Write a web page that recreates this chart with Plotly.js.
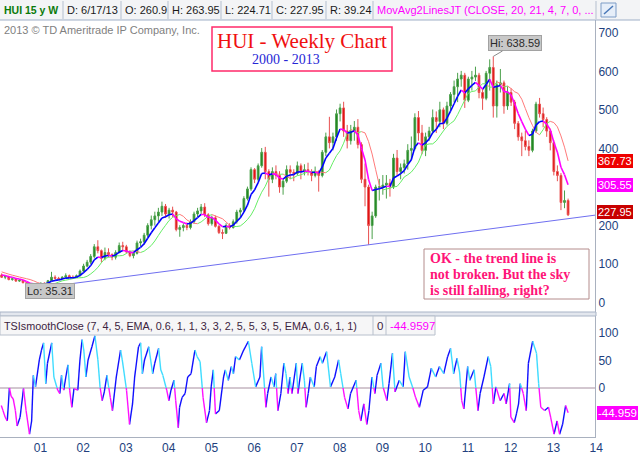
<!DOCTYPE html>
<html><head><meta charset="utf-8">
<script src="https://cdn.plot.ly/plotly-3.0.1.min.js"></script>
<style>html,body{margin:0;padding:0;background:#fff;}#chart{width:640px;height:456px;}</style>
</head><body><div id="chart"></div>
<script>
// ---------- DATA (monthly bars, Mar 2000 .. Jun 2013) ----------
const firstMonth = {year: 2000, month: 3};
const open = [72,66,68,60,62,56,58,52,46,40,
 45,47,50,48,57,66,63,62,66,70,66,65,
 70,82,95,105,120,145,135,115,130,125,118,130,
 148,145,132,122,128,155,158,175,200,215,225,235,
 250,230,240,235,190,195,200,195,210,230,238,248,
 228,205,220,198,182,180,200,195,210,235,240,270,
 295,345,320,355,390,340,320,340,330,300,315,345,
 338,335,355,340,345,340,330,340,330,390,430,415,
 430,490,505,445,420,445,455,410,320,300,200,225,
 300,300,305,310,300,375,340,350,360,395,400,480,
 440,395,430,445,480,470,500,465,510,540,560,580,
 590,525,580,585,590,545,530,595,610,510,565,570,
 510,545,520,465,430,420,405,395,445,515,490,475,
 445,415,340,330,260,265];
const high = [76,71,70,65,63,61,59,54,48,47,
 50,53,53,59,80,71,67,69,76,73,71,73,
 86,101,111,126,152,162,138,143,141,128,136,156,
 158,150,136,132,161,166,181,206,226,236,246,262,
 256,246,249,238,201,206,208,216,236,246,256,258,
 232,226,226,201,190,206,206,216,241,246,276,301,
 351,349,361,401,404,346,351,356,341,321,356,356,
 346,366,361,359,363,346,353,343,396,441,482,441,
 501,516,521,461,461,471,476,416,361,306,236,306,
 321,331,331,321,386,396,361,371,411,431,491,497,
 461,441,456,501,496,521,506,521,546,576,596,601,
 596,586,601,612,596,556,601,631,638.59,576,606,576,
 561,556,526,471,441,446,421,451,521,531,506,481,
 451,421,356,336,291,270];
const low = [64,61,58,57,54,54,50,44,35.31,38,
 43,45,46,47,56,60,58,60,62,64,62,64,
 68,78,92,100,115,128,104,110,118,110,112,128,
 135,128,118,115,125,146,150,170,190,200,210,225,
 220,218,222,185,171,185,188,190,205,222,230,222,
 200,200,195,178,165,178,190,192,205,222,235,265,
 290,310,315,350,320,275,310,320,285,280,310,320,
 315,330,320,330,330,315,325,288,325,380,400,395,
 420,470,430,400,410,420,400,310,250,150.27,165,220,
 265,280,270,275,295,330,320,335,345,370,395,420,
 385,380,420,440,440,455,450,460,500,520,520,560,
 505,520,550,575,530,500,525,550,480,480,545,490,
 500,510,450,420,380,395,380,390,440,480,455,430,
 395,330,315,240,245,224.71];
const close = [66,68,60,62,56,58,52,46,40,45,
 47,50,48,57,66,63,62,66,70,66,65,70,
 82,95,105,120,145,135,115,130,125,118,130,148,
 145,132,122,128,155,158,175,200,215,225,235,250,
 230,240,235,190,195,200,195,210,230,238,248,228,
 205,220,198,182,180,200,195,210,235,240,270,295,
 345,320,355,390,340,320,340,330,300,315,345,338,
 335,355,340,345,340,330,340,330,390,430,415,430,
 490,505,445,420,445,455,410,320,300,200,225,300,
 300,305,310,300,375,340,350,360,395,400,480,440,
 395,430,445,480,470,500,465,510,540,560,580,590,
 525,580,585,590,545,530,595,610,510,565,570,510,
 545,520,465,430,420,405,395,445,515,490,475,445,
 415,340,330,260,265,227.95];
const maFast = [72,70.5,67.4,65.8,62.9,61.4,58.6,54.8,50.4,48.8,
 48.3,48.8,48.6,51.1,55.6,57.8,59.1,61.2,63.8,64.5,64.6,66.2,
 70.9,78.2,86.2,96.3,110.9,118.1,117.2,121,122.2,121,123.7,131,
 135.2,134.2,130.6,129.8,137.4,143.5,153,167.1,181.5,194.5,206.7,219.7,
 222.8,227.9,230.1,218,211.1,207.8,204,205.8,213,220.5,228.8,228.5,
 221.5,221,214.1,204.5,197.1,198,197.1,201,211.2,219.8,234.9,252.9,
 280.5,292.4,311.2,334.8,336.4,331.5,334,332.8,323,320.6,327.9,330.9,
 332.1,339,339.3,341,340.7,337.5,338.3,335.8,352,375.4,387.3,400.1,
 427.1,450.4,448.8,440.2,441.6,445.6,434.9,400.4,370.3,319.2,291,293.7,
 295.6,298.4,301.9,301.3,323.4,328.4,334.9,342.4,358.2,370.7,403.5,414.5,
 408.6,415,424,440.8,449.6,464.7,464.8,478.4,496.9,515.8,535.1,551.5,
 543.6,554.5,563.6,571.5,563.6,553.5,565.9,579.2,558.4,560.4,563.3,547.3,
 546.6,538.6,516.5,490.6,469.4,450.1,433.6,437,460.4,469.3,471,463.2,
 448.7,416.1,390.3,351.2,332,305.55];
const maSlow = [80,77,74,71.3,69,66.6,64.4,62.2,60,56.7,
 52.6,49.6,48.6,48.6,48.7,49.9,53.4,56.7,58.5,60.2,62.5,64.2,
 64.6,65.4,68.6,74.6,82.2,91.3,103.6,114.5,117.7,119.1,121.6,121.6,
 122.4,127.4,133.1,134.7,132.4,130.2,133.6,140.5,148.3,160.1,174.3,188,
 200.6,213.2,221.3,225.4,229,224.1,214.6,209.5,205.9,204.9,209.4,216.8,
 224.7,228.7,225,221.3,217.6,209.3,200.8,197.6,197.6,199.1,206.1,215.5,
 227.4,243.9,266.7,286.5,301.8,323,335.6,334,332.8,333.4,327.9,321.8,
 324.3,329.4,331.5,335.6,339.2,340.2,340.9,339.1,337.9,337.1,343.9,363.7,
 381.4,393.7,413.6,438.8,449.6,444.5,440.9,443.6,440.3,417.7,385.4,344.8,
 305.1,292.4,294.7,297,300.2,301.6,312.4,325.9,331.7,338.7,350.3,364.5,
 387.1,409,411.6,411.8,419.5,432.4,445.2,457.2,464.8,471.6,487.7,506.4,
 525.5,543.3,547.6,549.1,559.1,567.6,567.6,558.6,559.7,572.6,568.8,559.4,
 561.9,555.3,547,542.6,527.6,503.6,480,459.8,441.9,435.3,448.7,464.9,
 470.2,467.1,456,432.4,403.2,367.73];
// TSI oscillator turning points (decimal year, value)
const tsiTime = [2000.20,2000.24,2000.29,2000.34,2000.39,2000.43,2000.48,2000.53,2000.57,2000.64,2000.72,2000.78,2000.86,2000.91,2000.95,
 2001.00,2001.09,2001.14,2001.19,2001.24,2001.28,2001.38,2001.43,2001.52,2001.57,2001.61,2001.66,2001.71,2001.76,2001.80,2001.85,2001.90,2001.99,
 2002.04,2002.09,2002.13,2002.18,2002.23,2002.32,2002.39,2002.46,2002.51,2002.56,2002.61,2002.67,2002.75,2002.80,2002.89,2002.99,
 2003.03,2003.13,2003.20,2003.27,2003.32,2003.41,2003.46,2003.50,2003.55,2003.65,2003.74,2003.79,2003.88,2003.93,2003.98,
 2004.07,2004.12,2004.17,2004.24,2004.28,2004.34,2004.37,2004.43,2004.50,2004.56,2004.64,2004.73,2004.78,2004.85,2004.92,
 2005.00,2005.07,2005.11,2005.16,2005.21,2005.30,2005.40,2005.44,2005.51,2005.58,2005.63,2005.68,2005.77,2005.87,2005.98,
 2006.06,2006.15,2006.25,2006.29,2006.34,2006.39,2006.43,2006.51,2006.58,2006.62,2006.67,2006.74,2006.81,2006.86,2006.91,2006.95,
 2007.00,2007.10,2007.14,2007.19,2007.24,2007.29,2007.33,2007.38,2007.43,2007.52,2007.57,2007.66,2007.71,2007.81,2007.90,
 2008.00,2008.09,2008.14,2008.23,2008.31,2008.37,2008.50,2008.56,2008.61,2008.68,2008.75,2008.80,2008.87,2008.94,2008.99,
 2009.08,2009.13,2009.22,2009.27,2009.35,2009.41,2009.51,2009.60,2009.65,2009.74,2009.82,2009.89,2009.98,
 2010.07,2010.17,2010.26,2010.36,2010.45,2010.55,2010.64,2010.71,2010.78,2010.86,2010.92,2010.97,
 2011.02,2011.11,2011.16,2011.26,2011.35,2011.40,2011.49,2011.59,2011.65,2011.71,2011.77,2011.87,2011.96,
 2012.01,2012.09,2012.12,2012.20,2012.25,2012.30,2012.34,2012.41,2012.48,2012.53,2012.63,2012.72,2012.77,2012.82,2012.91,
 2013.00,2013.05,2013.13,2013.20,2013.26,2013.33,2013.40,2013.46];
const tsiValue = [-32,-41,-53,-60,0,-15,-20,-41,-69,-53,-1,-41,-84,-60,23,
 2,51,69,82,8,45,82,20,-4,-10,23,-4,20,42,-4,-35,-1,-4,
 51,88,69,20,51,75,95,51,2,-23,-7,23,-17,-41,20,69,
 51,-4,-66,-29,20,75,82,26,51,75,26,45,72,33,23,
 -4,-23,-4,14,-23,-72,-35,-17,-10,20,26,69,57,48,-17,
 -63,-41,2,33,-47,-41,20,33,14,39,26,57,51,69,85,
 45,2,20,75,20,-35,-10,20,2,26,-41,-10,45,26,-10,20,
 -10,45,-10,20,45,14,-35,-10,20,2,39,57,45,66,2,
 20,51,26,-17,-38,-10,14,-41,-60,-29,-66,-41,20,-10,23,
 45,2,-23,8,63,-7,14,2,66,20,2,-17,-35,
 -4,2,36,20,39,26,57,72,26,54,29,-23,
 -38,39,14,33,-41,-10,20,57,39,-29,2,-23,-10,
 -29,8,-53,-63,-47,-29,8,-10,-41,45,85,63,8,-35,-41,
 -35,-53,-84,-60,-84,-66,-32,-44.959];
const trendTime = [2000.875, 2014.09];
const trendValue = [35.31, 227];
const yearTicks = [2001,2002,2003,2004,2005,2006,2007,2008,2009,2010,2011,2012,2013,2014];
const yearLabels = ['01','02','03','04','05','06','07','08','09','10','11','12','13','14'];
const priceTicks = [0,100,200,400,500,600,700]; // 300 is hidden behind the MA value tag
const tsiTicks = [0,50,100];
const headerText = ['HUI 15 y W','D: 6/17/13','O: 260.9','H: 263.95','L: 224.71','C: 227.95','R: 39.24','MovAvg2LinesJT (CLOSE, 20, 21, 4, 7, 0, ...'];
const tsiHeaderText = ['TSIsmoothClose (7, 4, 5, EMA, 0.6, 1, 1, 3, 3, 2, 5, 5, 3, 5, EMA, 0.6, 1, 1)','0','-44.9597'];
const titleText = 'HUI - Weekly Chart';
const subtitleText = '2000 - 2013';
const noteLines = ['OK - the trend line is','not broken. But the sky','is still falling, right?'];
const copyrightText = '2013 \u00a9 TD Ameritrade IP Company, Inc.';

// ---------- BUILD ----------
const months = close.map((_, i) => firstMonth.year + (firstMonth.month - 1 + i + 0.5) / 12);
const P = x => x / 640, Q = y => 1 - y / 456;
const SANS = 'Liberation Sans, Arial, sans-serif', SERIF = 'Liberation Serif, Times New Roman, serif';

function slopeSplit(xs, ys, upColor, downColor, width, yaxis) {
  const up = {x: [], y: []}, dn = {x: [], y: []};
  for (let i = 0; i < xs.length - 1; i++) {
    const b = ys[i + 1] >= ys[i] ? up : dn;
    b.x.push(xs[i], xs[i + 1], null); b.y.push(ys[i], ys[i + 1], null);
  }
  return [up, dn].map((b, k) => ({type: 'scatter', mode: 'lines', x: b.x, y: b.y, yaxis: yaxis,
    line: {color: k ? downColor : upColor, width: width}, hoverinfo: 'skip', connectgaps: false}));
}

function tsiTraces() {
  const B = {blue: {x: [], y: []}, cyan: {x: [], y: []}, magenta: {x: [], y: []}};
  for (let i = 0; i < tsiTime.length - 1; i++) {
    const x0 = tsiTime[i], x1 = tsiTime[i + 1], y0 = tsiValue[i], y1 = tsiValue[i + 1];
    if (y1 >= y0) { B.blue.x.push(x0, x1, null); B.blue.y.push(y0, y1, null); continue; }
    if (y0 > 0 && y1 < 0) {
      const xc = x0 + (x1 - x0) * y0 / (y0 - y1);
      B.cyan.x.push(x0, xc, null); B.cyan.y.push(y0, 0, null);
      B.magenta.x.push(xc, x1, null); B.magenta.y.push(0, y1, null);
    } else if (y1 >= 0) { B.cyan.x.push(x0, x1, null); B.cyan.y.push(y0, y1, null); }
    else { B.magenta.x.push(x0, x1, null); B.magenta.y.push(y0, y1, null); }
  }
  const col = {blue: '#1010ff', cyan: '#3fdcff', magenta: '#ff10ff'};
  return Object.keys(B).map(k => ({type: 'scatter', mode: 'lines', x: B[k].x, y: B[k].y, yaxis: 'y2',
    line: {color: col[k], width: 1.4}, hoverinfo: 'skip'}));
}

const traces = [];
traces.push({type: 'scatter', mode: 'lines', x: trendTime, y: trendValue, yaxis: 'y',
  line: {color: '#6f6ff0', width: 1}, hoverinfo: 'skip'});
traces.push({type: 'candlestick', x: months, open: open, high: high, low: low, close: close, yaxis: 'y',
  increasing: {line: {color: '#4aa04a', width: 1}, fillcolor: '#1a801a'},
  decreasing: {line: {color: '#e85050', width: 1}, fillcolor: '#dd0000'},
  whiskerwidth: 0, hoverinfo: 'skip'});
traces.push(...slopeSplit(months, maSlow, '#66ee66', '#ff7a7a', 1, 'y'));
traces.push(...slopeSplit(months, maFast, '#0000ff', '#ff00ff', 1.6, 'y'));
traces.push(...tsiTraces());

const last = close.length - 1;
const iHi = high.indexOf(Math.max(...high));
const iLo = low.indexOf(Math.min(...low));

const shapes = [], anns = [];
// top header bar
shapes.push({type: 'rect', xref: 'paper', yref: 'paper', x0: 0, x1: 1, y0: Q(20), y1: 1, fillcolor: '#f3f4f6', line: {width: 0}, layer: 'below'});
shapes.push({type: 'line', xref: 'paper', yref: 'paper', x0: 0, x1: 1, y0: Q(20), y1: Q(20), line: {color: '#9fb0c8', width: 1}});
const cellEdges = [0, 63, 121, 168, 221, 272, 326, 373, 596];
headerText.forEach((t, i) => {
  anns.push({xref: 'paper', yref: 'paper', x: P(cellEdges[i] + 2), y: Q(10), xanchor: 'left', yanchor: 'middle', showarrow: false,
    text: i === 0 ? '<b>' + t + '</b>' : t,
    font: {family: SANS, size: i === 0 ? 10.5 : 11, color: i === 0 ? '#0a7a0a' : (i === 7 ? '#ff00ff' : '#1a1a1a')}});
  shapes.push({type: 'line', xref: 'paper', yref: 'paper', x0: P(cellEdges[i + 1]), x1: P(cellEdges[i + 1]), y0: Q(19), y1: Q(1), line: {color: '#b4bfcf', width: 1}});
});
// small icon in header
shapes.push({type: 'rect', xref: 'paper', yref: 'paper', x0: P(601), x1: P(616), y0: Q(17), y1: Q(3), fillcolor: '#e6eef9', line: {color: '#7d9cc6', width: 1}});
shapes.push({type: 'line', xref: 'paper', yref: 'paper', x0: P(604), x1: P(613), y0: Q(14), y1: Q(6), line: {color: '#4a78b8', width: 1.5}});
// copyright
anns.push({xref: 'paper', yref: 'paper', x: P(2), y: Q(30), xanchor: 'left', yanchor: 'middle', showarrow: false,
  text: copyrightText, font: {family: SANS, size: 11, color: '#7f7f7f'}});
// title box
shapes.push({type: 'rect', xref: 'paper', yref: 'paper', x0: P(212), x1: P(392), y0: Q(71), y1: Q(27), fillcolor: '#ffffff', line: {color: '#ff2a6a', width: 1.5}});
anns.push({xref: 'paper', yref: 'paper', x: P(302), y: Q(41), xanchor: 'center', yanchor: 'middle', showarrow: false,
  text: titleText, font: {family: SERIF, size: 21, color: '#f01010'}});
anns.push({xref: 'paper', yref: 'paper', x: P(286), y: Q(60), xanchor: 'center', yanchor: 'middle', showarrow: false,
  text: subtitleText, font: {family: SERIF, size: 14, color: '#2626d6'}});
// note box
shapes.push({type: 'rect', xref: 'paper', yref: 'paper', x0: P(424), x1: P(589), y0: Q(299), y1: Q(249), fillcolor: '#ffffff', line: {color: '#b48c8c', width: 1}});
noteLines.forEach((t, i) => anns.push({xref: 'paper', yref: 'paper', x: P(428), y: Q(258 + i * 16), xanchor: 'left', yanchor: 'middle', showarrow: false,
  text: '<b>' + t + '</b>', font: {family: SERIF, size: 14, color: '#ff1478'}}));
// Hi / Lo labels
anns.push({xref: 'x', yref: 'y', x: months[iHi], y: high[iHi], ax: 22, ay: -13, showarrow: true, arrowhead: 0, arrowwidth: 1, arrowcolor: '#8a8a8a',
  text: 'Hi: ' + high[iHi].toFixed(2), bgcolor: '#c8c8c8', bordercolor: '#a2a2a2', borderpad: 1, font: {family: SANS, size: 11, color: '#2a2a2a'}});
anns.push({xref: 'x', yref: 'y', x: months[iLo], y: low[iLo], xanchor: 'left', yanchor: 'top', xshift: -5, yshift: 6, showarrow: false,
  text: 'Lo: ' + low[iLo].toFixed(2), bgcolor: '#c8c8c8', bordercolor: '#a2a2a2', borderpad: 1, font: {family: SANS, size: 11, color: '#2a2a2a'}});
// right value labels
[[maSlow[last], '#ee0000', 0], [maFast[last], '#ff00ff', 0], [close[last], '#c80000', 3]].forEach(([v, c, s]) =>
  anns.push({xref: 'paper', yref: 'y', x: P(597), y: v, xanchor: 'left', yanchor: 'middle', showarrow: false, yshift: s,
    text: v.toFixed(2), bgcolor: c, borderpad: 1, borderwidth: 0, font: {family: SANS, size: 11, color: '#ffffff'}}));
anns.push({xref: 'paper', yref: 'y2', x: P(597), y: tsiValue[tsiValue.length - 1], xanchor: 'left', yanchor: 'middle', showarrow: false,
  text: tsiValue[tsiValue.length - 1].toFixed(3), bgcolor: '#ff00ff', borderpad: 1, borderwidth: 0, font: {family: SANS, size: 11.5, color: '#ffffff'}});
// panel separator
shapes.push({type: 'rect', xref: 'paper', yref: 'paper', x0: 0, x1: P(596), y0: Q(316), y1: Q(312), fillcolor: '#e3e7ee', line: {color: '#a9b4c6', width: 1}});
// TSI header
const tsiEdges = [0, 373, 386, 435];
shapes.push({type: 'rect', xref: 'paper', yref: 'paper', x0: 0, x1: P(435), y0: Q(335), y1: Q(316), fillcolor: '#f6f6f7', line: {color: '#b8c0cc', width: 1}});
tsiHeaderText.forEach((t, i) => {
  anns.push({xref: 'paper', yref: 'paper', x: P(tsiEdges[i] + 2), y: Q(325.5), xanchor: 'left', yanchor: 'middle', showarrow: false,
    text: t, font: {family: SANS, size: i === 0 ? 10.8 : 11.5, color: i === 2 ? '#ff00ff' : '#3c2440'}});
  if (i > 0) shapes.push({type: 'line', xref: 'paper', yref: 'paper', x0: P(tsiEdges[i]), x1: P(tsiEdges[i]), y0: Q(335), y1: Q(316), line: {color: '#b8c0cc', width: 1}});
});
// TSI zero line
shapes.push({type: 'line', xref: 'paper', yref: 'y2', x0: 0, x1: P(595), y0: 0, y1: 0, line: {color: '#a68fa0', width: 1}, layer: 'below'});

const tickFont = {family: SANS, size: 12, color: '#223f7e'};
const layout = {
  width: 640, height: 456, margin: {l: 0, r: 0, t: 0, b: 0},
  paper_bgcolor: '#ffffff', plot_bgcolor: '#ffffff', showlegend: false, hovermode: false, dragmode: false,
  xaxis: {domain: [0, 595 / 640], range: [2000.17, 2014.088], anchor: 'y2', tickmode: 'array', tickvals: yearTicks, ticktext: yearLabels,
    tickfont: tickFont, ticks: '', ticklabelshift: 5, showgrid: false, zeroline: false, showline: true, linecolor: '#a9b1bf',
    rangeslider: {visible: false}, fixedrange: true},
  yaxis: {domain: [143 / 456, 436 / 456], range: [-26.7, 733], side: 'right', anchor: 'x', tickmode: 'array', tickvals: priceTicks,
    tickfont: tickFont, ticks: '', showgrid: false, zeroline: false, showline: true, linecolor: '#a9b1bf', fixedrange: true},
  yaxis2: {domain: [19 / 456, 140 / 456], range: [-89.1, 130.9], side: 'right', anchor: 'x', tickmode: 'array', tickvals: tsiTicks,
    tickfont: tickFont, ticks: '', showgrid: false, zeroline: false, showline: true, linecolor: '#a9b1bf', fixedrange: true},
  shapes: shapes, annotations: anns
};
Plotly.newPlot('chart', traces, layout, {staticPlot: true, displayModeBar: false});
</script>
</body></html>
